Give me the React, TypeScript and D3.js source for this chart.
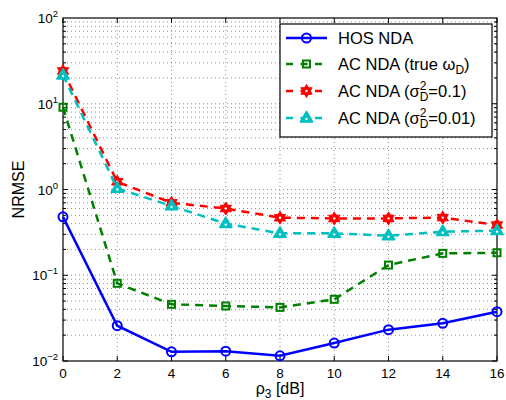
import { useEffect, useRef } from 'react';
import * as d3 from 'd3';

// data
const rho = [0, 2, 4, 6, 8, 10, 12, 14, 16];
const hosNda = [0.48, 0.0258, 0.0128, 0.0130, 0.0115, 0.0162, 0.0232, 0.0275, 0.0376];
const acTrue = [9.1, 0.0805, 0.0458, 0.0438, 0.0422, 0.0524, 0.1315, 0.18, 0.183];
const acSig01 = [24.1, 1.23, 0.70, 0.60, 0.469, 0.46, 0.46, 0.47, 0.385];
const acSig001 = [21.6, 1.03, 0.643, 0.40, 0.308, 0.308, 0.289, 0.322, 0.331];

const xTicks = [0, 2, 4, 6, 8, 10, 12, 14, 16];
const yExps = [-2, -1, 0, 1, 2];

const W = 506;
const H = 400;
const margin = { left: 63, right: 9, top: 18, bottom: 39 };
const FONT = 'Liberation Sans, Arial, Helvetica, sans-serif';

function hexagram(r: number) {
  const pts = (off: number) =>
    d3.range(3).map(i => {
      const a = off + (i * 2 * Math.PI) / 3;
      return [r * Math.sin(a), -r * Math.cos(a)];
    });
  const p = (t: number[][]) => 'M' + t.map(q => q.join(',')).join('L') + 'Z';
  return p(pts(0)) + p(pts(Math.PI));
}

export default function App() {
  const svgRef = useRef<SVGSVGElement>(null);

  useEffect(() => {
    const svg = d3.select(svgRef.current);
    svg.selectAll('*').remove();

    const innerW = W - margin.left - margin.right;
    const innerH = H - margin.top - margin.bottom;

    const x = d3.scaleLinear().domain([0, 16]).range([0, innerW]);
    const y = d3.scaleLog().domain([1e-2, 1e2]).range([innerH, 0]);

    const g = svg.append('g').attr('transform', `translate(${margin.left},${margin.top})`);

    g.append('rect').attr('width', innerW).attr('height', innerH).attr('fill', '#fff');

    // grid
    const gridColor = '#444';
    xTicks.slice(1, -1).forEach(t => {
      g.append('line')
        .attr('x1', x(t)).attr('x2', x(t)).attr('y1', 0).attr('y2', innerH)
        .attr('stroke', gridColor).attr('stroke-width', 0.6).attr('stroke-dasharray', '1,3');
    });
    const minor: number[] = [];
    for (let e = -2; e < 2; e++) {
      for (let m = 1; m <= 9; m++) {
        const v = m * Math.pow(10, e);
        if (v > 1e-2) minor.push(v);
      }
    }
    minor.forEach(v => {
      g.append('line')
        .attr('x1', 0).attr('x2', innerW).attr('y1', y(v)).attr('y2', y(v))
        .attr('stroke', gridColor).attr('stroke-width', 0.6).attr('stroke-dasharray', '1,3');
    });

    // ticks (inside)
    xTicks.forEach(t => {
      g.append('line').attr('x1', x(t)).attr('x2', x(t)).attr('y1', innerH).attr('y2', innerH - 5)
        .attr('stroke', '#000').attr('stroke-width', 1);
      g.append('line').attr('x1', x(t)).attr('x2', x(t)).attr('y1', 0).attr('y2', 5)
        .attr('stroke', '#000').attr('stroke-width', 1);
      g.append('text').attr('x', x(t)).attr('y', innerH + 17)
        .attr('text-anchor', 'middle').attr('font-family', FONT).attr('font-size', 13.5)
        .text(String(t));
    });
    const allY = [...minor, 1e-2];
    allY.forEach(v => {
      const isMajor = Math.abs(Math.log10(v) - Math.round(Math.log10(v))) < 1e-9;
      const len = isMajor ? 5 : 3;
      g.append('line').attr('x1', 0).attr('x2', len).attr('y1', y(v)).attr('y2', y(v))
        .attr('stroke', '#000').attr('stroke-width', 1);
      g.append('line').attr('x1', innerW).attr('x2', innerW - len).attr('y1', y(v)).attr('y2', y(v))
        .attr('stroke', '#000').attr('stroke-width', 1);
    });
    yExps.forEach(e => {
      const t = g.append('text').attr('x', -5).attr('y', y(Math.pow(10, e)) + 5)
        .attr('text-anchor', 'end').attr('font-family', FONT).attr('font-size', 13.5);
      t.append('tspan').text('10');
      t.append('tspan').attr('dy', -6).attr('font-size', 9.5).text(e < 0 ? '\u2212' + Math.abs(e) : String(e));
    });

    // frame
    g.append('rect').attr('width', innerW).attr('height', innerH)
      .attr('fill', 'none').attr('stroke', '#000').attr('stroke-width', 1.2);

    // series
    const series = [
      { name: 'sig01', data: acSig01, color: '#ff0000', dash: '8,6', marker: 'hex' },
      { name: 'sig001', data: acSig001, color: '#00bfbf', dash: '8,6', marker: 'tri' },
      { name: 'true', data: acTrue, color: '#007f00', dash: '8,6', marker: 'sq' },
      { name: 'hos', data: hosNda, color: '#0000ff', dash: null, marker: 'circ' },
    ];

    const line = d3.line<number>().x((_, i) => x(rho[i])).y(d => y(d));

    const drawMarker = (sel: any, kind: string, color: string, cx: number, cy: number) => {
      if (kind === 'circ') {
        sel.append('circle').attr('cx', cx).attr('cy', cy).attr('r', 4.5)
          .attr('fill', 'none').attr('stroke', color).attr('stroke-width', 2);
      } else if (kind === 'sq') {
        sel.append('rect').attr('x', cx - 3.5).attr('y', cy - 3.5).attr('width', 7).attr('height', 7)
          .attr('fill', 'none').attr('stroke', color).attr('stroke-width', 2);
      } else if (kind === 'hex') {
        sel.append('path').attr('d', hexagram(6.5)).attr('transform', `translate(${cx},${cy})`)
          .attr('fill', color).attr('stroke', color).attr('stroke-width', 1);
        sel.append('circle').attr('cx', cx).attr('cy', cy).attr('r', 1.2).attr('fill', '#fff');
      } else if (kind === 'tri') {
        const r = 6.5;
        sel.append('path')
          .attr('d', `M${cx},${cy - r}L${cx + r * 0.95},${cy + r * 0.6}L${cx - r * 0.95},${cy + r * 0.6}Z`)
          .attr('fill', color).attr('stroke', color).attr('stroke-width', 1.5).attr('stroke-linejoin', 'round');
        sel.append('circle').attr('cx', cx).attr('cy', cy + 1).attr('r', 1.2).attr('fill', '#fff');
      }
    };

    const clip = svg.append('defs').append('clipPath').attr('id', 'plotclip');
    clip.append('rect').attr('x', -8).attr('y', -8).attr('width', innerW + 16).attr('height', innerH + 16);

    series.forEach(s => {
      const sg = g.append('g').attr('clip-path', 'url(#plotclip)');
      sg.append('path').attr('d', line(s.data) as string)
        .attr('fill', 'none').attr('stroke', s.color).attr('stroke-width', 2.5)
        .attr('stroke-dasharray', s.dash ?? null);
      s.data.forEach((v, i) => drawMarker(sg, s.marker, s.color, x(rho[i]), y(v)));
    });

    // legend
    const lx = 280 - margin.left;
    const ly = 24 - margin.top;
    const lw = 212;
    const lh = 113;
    const lg = g.append('g').attr('transform', `translate(${lx},${ly})`);
    lg.append('rect').attr('width', lw).attr('height', lh).attr('fill', '#fff')
      .attr('stroke', '#000').attr('stroke-width', 1.2);

    const legendItems = [
      { s: series[3], label: 'hos' },
      { s: series[2], label: 'true' },
      { s: series[0], label: 'sig01' },
      { s: series[1], label: 'sig001' },
    ];
    const rowY = [14, 40, 67, 94];
    const LF = 16.5;
    legendItems.forEach((it, i) => {
      const cy = rowY[i];
      lg.append('line').attr('x1', 6).attr('x2', 47).attr('y1', cy).attr('y2', cy)
        .attr('stroke', it.s.color).attr('stroke-width', 2.5)
        .attr('stroke-dasharray', it.s.dash ? '7,7.5' : null);
      drawMarker(lg, it.s.marker, it.s.color, 26.5, cy);
      const t = lg.append('text').attr('x', 58).attr('y', cy + 6)
        .attr('font-family', FONT).attr('font-size', LF);
      if (it.label === 'hos') {
        t.text('HOS NDA');
      } else if (it.label === 'true') {
        t.append('tspan').text('AC NDA (true \u03C9');
        t.append('tspan').attr('dy', 4).attr('font-size', 12).text('D');
        t.append('tspan').attr('dy', -4).text(')');
      } else {
        t.append('tspan').text('AC NDA (\u03C3');
        t.append('tspan').attr('dy', -7).attr('font-size', 12).text('2');
        t.append('tspan').attr('dy', 11).attr('dx', -6.7).attr('font-size', 12).text('D');
        t.append('tspan').attr('dy', -4).text(it.label === 'sig01' ? '=0.1)' : '=0.01)');
      }
    });

    // axis labels
    const xl = svg.append('text').attr('x', margin.left + innerW / 2).attr('y', H - 6)
      .attr('text-anchor', 'middle').attr('font-family', FONT).attr('font-size', 16);
    xl.append('tspan').text('\u03C1');
    xl.append('tspan').attr('dy', 4).attr('font-size', 12).text('3');
    xl.append('tspan').attr('dy', -4).text(' [dB]');

    svg.append('text').attr('transform', `translate(24,${margin.top + innerH / 2}) rotate(-90)`)
      .attr('text-anchor', 'middle').attr('font-family', FONT).attr('font-size', 16)
      .text('NRMSE');
  }, []);

  return (
    <svg ref={svgRef} width={W} height={H}
      style={{ position: 'absolute', left: 0, top: 0, background: '#fff' }} />
  );
}
